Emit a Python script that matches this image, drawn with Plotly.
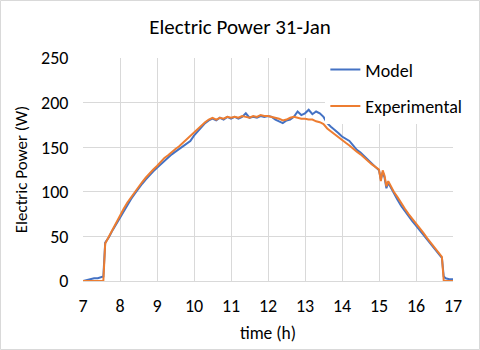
import plotly.graph_objects as go

# time (h)
time_h = [7.0, 7.1, 7.2, 7.3, 7.4, 7.5, 7.55, 7.6, 7.7, 7.8, 7.9,
          8.0, 8.1, 8.2, 8.3, 8.4, 8.5, 8.6, 8.7, 8.8, 8.9,
          9.0, 9.1, 9.2, 9.3, 9.4, 9.5, 9.6, 9.7, 9.8, 9.9,
          10.0, 10.1, 10.2, 10.3, 10.4, 10.5, 10.6, 10.7, 10.8, 10.9,
          11.0, 11.1, 11.2, 11.3, 11.4, 11.5, 11.6, 11.7, 11.8, 11.9,
          12.0, 12.1, 12.2, 12.3, 12.4, 12.5, 12.6, 12.7, 12.8, 12.9,
          13.0, 13.1, 13.2, 13.3, 13.4, 13.5, 13.6, 13.7, 13.8, 13.9,
          14.0, 14.1, 14.2, 14.3, 14.4, 14.5, 14.6, 14.7, 14.8, 14.9,
          15.0, 15.05, 15.1, 15.15, 15.2, 15.25, 15.3, 15.4, 15.5, 15.6, 15.7, 15.8, 15.9,
          16.0, 16.1, 16.2, 16.3, 16.4, 16.5, 16.6, 16.7, 16.75, 16.8, 16.9, 17.0]

model_w = [0, 1, 2, 3, 3, 4, 5, 43, 49, 57, 64,
           72, 79, 86, 92, 98, 104, 109, 114, 119, 123,
           127, 131, 135, 138, 142, 145, 148, 151, 153, 157,
           163, 168, 172, 177, 180, 182, 180, 183, 181, 184,
           182, 184, 182, 184, 188, 183, 184, 183, 185, 184,
           185, 184, 181, 179, 177, 180, 181, 184, 190, 186,
           188, 192, 187, 190, 188, 184, 177, 173, 170, 166,
           162, 159, 157, 152, 147, 144, 140, 136, 132, 128,
           124, 114, 122, 116, 104, 110, 106, 98, 91, 84, 78, 72, 67,
           62, 57, 52, 46, 41, 36, 31, 26, 5, 3, 2, 2]

experimental_w = [0, 0, 0, 0, 0, 0, 0, 42, 50, 58, 66,
                  74, 81, 88, 94, 100, 106, 111, 116, 121, 125,
                  129, 134, 138, 141, 145, 148, 151, 155, 159, 163,
                  167, 171, 174, 178, 181, 183, 181, 183, 182, 184,
                  183, 184, 183, 185, 184, 183, 185, 184, 186, 185,
                  185, 184, 183, 182, 180, 181, 183, 184, 183, 182,
                  182, 181, 181, 179, 178, 176, 171, 168, 165, 161,
                  158, 155, 152, 148, 145, 142, 138, 135, 131, 128,
                  125, 112, 124, 118, 106, 112, 108, 100, 94, 87, 81, 75, 70,
                  65, 59, 54, 48, 43, 38, 32, 27, 0, 0, 0, 0]

FONT = "Calibri, Carlito, Lato, sans-serif"
GRID = "#d9d9d9"

fig = go.Figure()
fig.add_trace(go.Scatter(x=time_h, y=model_w, mode="lines", name="Model",
                         line=dict(color="#4472C4", width=2), legendgroup="m"))
fig.add_trace(go.Scatter(x=time_h, y=experimental_w, mode="lines", name="Experimental",
                         line=dict(color="#ED7D31", width=2), legendgroup="e"))

fig.update_layout(
    width=480, height=350,
    margin=dict(l=83, r=27, t=58, b=69),
    paper_bgcolor="white", plot_bgcolor="white",
    font=dict(family=FONT, size=18, color="#000000"),
    title=dict(text="Electric Power 31-Jan", x=0.5, xanchor="center",
               y=1 - 27 / 350, yanchor="middle", font=dict(size=21, color="#000000")),
    legend=dict(x=0.655, xanchor="left", y=1.03, yanchor="top",
                bgcolor="white", font=dict(size=18), itemwidth=30,
                tracegroupgap=10, traceorder="grouped"),
    xaxis=dict(range=[7, 17], dtick=1, showgrid=True, gridcolor=GRID, gridwidth=1,
               zeroline=False, showline=True, linecolor=GRID, mirror=False,
               ticks="outside", ticklen=8, tickcolor="rgba(0,0,0,0)", automargin=False,
               title=dict(text="time (h)", standoff=11, font=dict(size=17.5))),
    yaxis=dict(range=[0, 250], dtick=50, showgrid=True, gridcolor=GRID, gridwidth=1,
               zeroline=False, showline=False, automargin=False,
               ticks="outside", ticklen=10, tickcolor="rgba(0,0,0,0)",
               title=dict(text="Electric Power (W)", standoff=9, font=dict(size=17))),
    shapes=[dict(type="rect", xref="paper", yref="paper",
                 x0=-82.5 / 370, x1=1 + 26.5 / 370, y0=-68.5 / 223, y1=1 + 57.5 / 223,
                 line=dict(color=GRID, width=1), fillcolor="rgba(0,0,0,0)", layer="below")],
)

# the page body has a default 8px margin; drop it so the figure sits at the window corner
fig.write_html("out.html", config={"displayModeBar": False},
               post_script="document.body.style.margin='0';")
